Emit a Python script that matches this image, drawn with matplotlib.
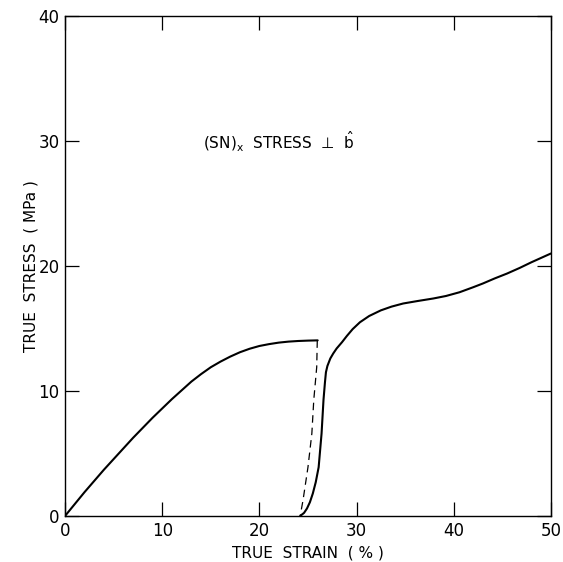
import matplotlib
matplotlib.use('Agg')
import matplotlib.pyplot as plt

# loading branch (solid)
load_strain = [0, 1, 2, 3, 4, 5, 6, 7, 8, 9, 10, 11, 12, 13, 14, 15, 16, 17, 18, 19,
               20, 21, 22, 23, 24, 25, 26]
load_stress = [0, 0.95, 1.9, 2.8, 3.7, 4.55, 5.4, 6.25, 7.05, 7.85, 8.6, 9.35, 10.05,
               10.75, 11.35, 11.9, 12.35, 12.75, 13.1, 13.38, 13.6, 13.75, 13.87,
               13.95, 14.0, 14.03, 14.05]

# unloading branch (dashed)
unload_strain = [25.96, 25.9, 25.6, 25.4, 25.0, 24.5, 24.2]
unload_stress = [14.05, 11.9, 9.3, 6.6, 3.9, 1.3, 0.0]

# reloading branch (solid)
reload_strain = [24.2, 24.6, 24.9, 25.2, 25.5, 25.8, 26.1, 26.4, 26.6, 26.75, 26.85, 27.0,
                 27.3, 27.6, 27.95, 28.5, 29.0, 29.6, 30.35, 31.3, 32.5, 33.6, 34.8,
                 36.3, 37.9, 39.2, 40.6, 42.0, 43.0, 44.2, 45.5, 46.8, 48.0, 49.0, 50.0]
reload_stress = [0.0, 0.25, 0.6, 1.1, 1.8, 2.7, 3.9, 6.6, 9.3, 10.7, 11.5, 12.0,
                 12.6, 13.0, 13.4, 13.9, 14.4, 14.95, 15.5, 16.0, 16.45, 16.75, 17.0,
                 17.2, 17.4, 17.6, 17.9, 18.3, 18.6, 19.0, 19.4, 19.85, 20.3, 20.65, 21.0]

fig = plt.figure(figsize=(5.63, 5.62), dpi=100)
ax = fig.add_axes([0.1155, 0.0819, 0.863, 0.8896])

ax.plot(load_strain, load_stress, color='black', lw=1.5, solid_capstyle='round')
ax.plot(unload_strain, unload_stress, color='black', lw=0.9, ls=(0, (6, 4)))
ax.plot(reload_strain, reload_stress, color='black', lw=1.5, solid_capstyle='round')

ax.set_xlim(0, 50)
ax.set_ylim(0, 40)
ax.set_xticks([0, 10, 20, 30, 40, 50])
ax.set_yticks([0, 10, 20, 30, 40])
ax.tick_params(direction='in', length=10, width=0.9, top=True, right=True,
               labelsize=12, pad=4)
for s in ax.spines.values():
    s.set_linewidth(1.0)

ax.set_xlabel('TRUE  STRAIN  ( % )', fontsize=11, labelpad=4)
ax.set_ylabel('TRUE  STRESS  ( MPa )', fontsize=11, labelpad=0)

ax.text(14.2, 29.3, r'(SN)$_{\mathrm{x}}$  STRESS  ⊥  $\hat{\mathrm{b}}$', fontsize=11)

fig.savefig('out.png', dpi=100)
